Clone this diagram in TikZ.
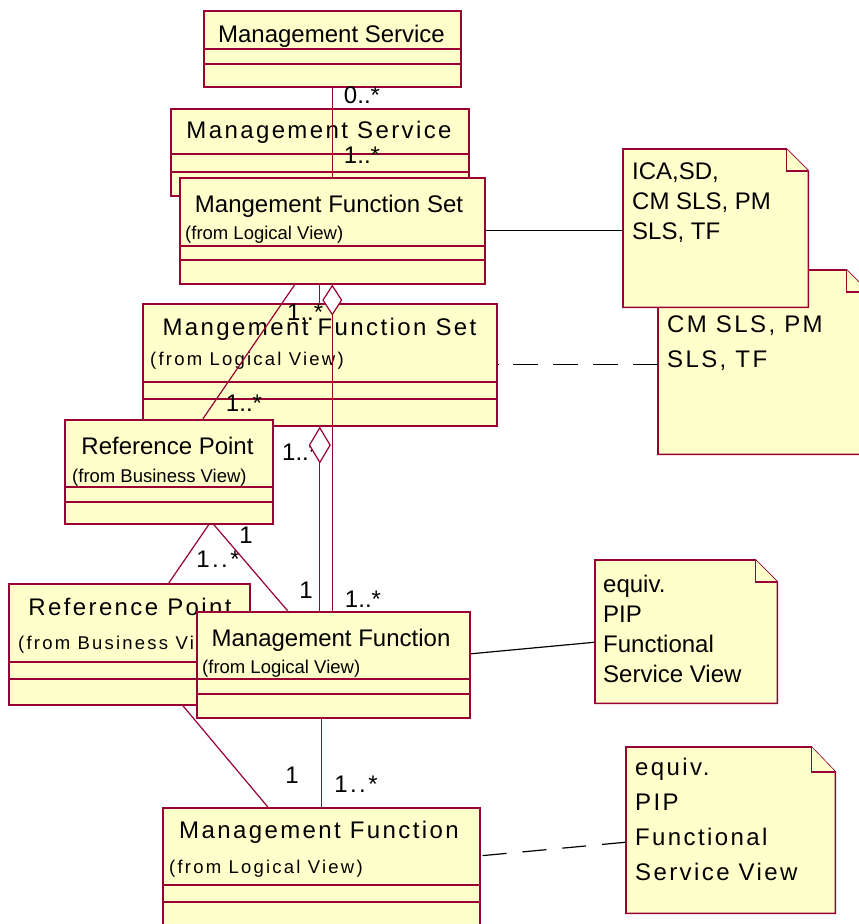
\documentclass[tikz,border=0pt]{standalone}
\usepackage{fontspec}
\setmainfont{Liberation Sans}
\newfontfamily\widefont[LetterSpace=10]{Liberation Sans}
\newfontfamily\widesmall[LetterSpace=12]{Liberation Sans}
\usetikzlibrary{arrows.meta}
\definecolor{classfill}{HTML}{FFFFCC}
\definecolor{classline}{HTML}{990033}

\begin{document}
\begin{tikzpicture}[x=1pt, y=-1pt,
    classbox/.style={draw=classline, fill=classfill, line width=1.6pt, anchor=north west, inner sep=0pt},
    compart/.style={draw=classline, line width=1.2pt},
    notearea/.style={anchor=north west, inner sep=0pt},
    notebox/.style={draw=classline, fill=classfill, line width=1.6pt, line join=miter},
    title/.style={font=\fontsize{24}{28}\selectfont, anchor=base, inner sep=0pt},
    wtitle/.style={font=\fontsize{24}{28}\widefont, anchor=base, inner sep=0pt},
    subtitle/.style={font=\fontsize{18.5}{22}\selectfont, anchor=base west, inner sep=0pt},
    wsubtitle/.style={font=\fontsize{18.5}{22}\widesmall, anchor=base west, inner sep=0pt},
    notetext/.style={font=\fontsize{24}{30}\selectfont, align=left, anchor=north west, inner sep=0pt},
    wnotetext/.style={font=\fontsize{24}{35}\widefont, align=left, anchor=north west, inner sep=0pt},
    mult/.style={font=\fontsize{24}{28}\selectfont, anchor=base, inner sep=0pt},
    wmult/.style={font=\fontsize{24}{28}\widefont, anchor=base, inner sep=0pt},
    assoc/.style={draw=classline, line width=1.2pt},
    link/.style={draw=black, line width=1.2pt}
    ]
    \useasboundingbox (0,0) rectangle (859,924);

    % classes
    \node[classbox, minimum width=257pt, minimum height=76pt] (ms) at (203,10) {};
    \node[title] (mstitle) at (331.5,42) {Management Service};
    \draw[compart] (203,49) -- (460,49) (203,64) -- (460,64);

    \node[classbox, minimum width=298pt, minimum height=87pt] (ms2) at (170,108) {};
    \node[wtitle] (ms2title) at (319,138) {Management Service};
    \draw[compart] (170,154) -- (468,154) (170,172) -- (468,172);

    \node[classbox, minimum width=305pt, minimum height=106pt] (mfs) at (179,177) {};
    \node[title] (mfstitle) at (329,212) {Mangement Function Set};
    \node[subtitle] (mfsfrom) at (185,239) {(from Logical View)};
    \draw[compart] (179,246) -- (484,246) (179,260) -- (484,260);

    \node[classbox, minimum width=354pt, minimum height=122pt] (mfs2) at (142,303) {};
    \node[wtitle] (mfs2title) at (319.5,335) {Mangement Function Set};
    \node[wsubtitle] (mfs2from) at (150,365) {(from Logical View)};
    \draw[compart] (142,382) -- (496,382) (142,399) -- (496,399);

    \node[classbox, minimum width=208pt, minimum height=104pt] (rp) at (64,419) {};
    \node[title] (rptitle) at (167.5,454) {Reference Point};
    \node[subtitle] (rpfrom) at (72,482) {(from Business View)};
    \draw[compart] (64,487) -- (272,487) (64,502) -- (272,502);

    \node[classbox, minimum width=241pt, minimum height=121pt] (rp2) at (8,583) {};
    \node[wtitle] (rp2title) at (130,615) {Reference Point};
    \node[wsubtitle] (rp2from) at (18,649) {(from Business View)};
    \draw[compart] (8,662) -- (249,662) (8,679) -- (249,679);

    \node[classbox, minimum width=273pt, minimum height=106pt] (mf) at (196,611) {};
    \node[title] (mftitle) at (331,646) {Management Function};
    \node[subtitle] (mffrom) at (202,673) {(from Logical View)};
    \draw[compart] (196,679) -- (469,679) (196,694) -- (469,694);

    \node[classbox, minimum width=317pt, minimum height=120pt] (mf2) at (162,807) {};
    \node[wtitle] (mf2title) at (319,838) {Management Function};
    \node[wsubtitle] (mf2from) at (169,873) {(from Logical View)};
    \draw[compart] (162,885) -- (479,885) (162,902) -- (479,902);

    % notes
    \node[notearea, minimum width=210pt, minimum height=184pt] (n2) at (658,270) {};
    \draw[notebox] (n2.south west) -- (n2.north west) -- ([xshift=-22pt]n2.north east)
        -- ([yshift=-22pt]n2.north east) -- (n2.south east) -- cycle;
    \draw[notebox] ([xshift=-22pt]n2.north east) |- ([yshift=-22pt]n2.north east);
    \node[wnotetext] (n2text) at (667,316) {CM SLS, PM\\SLS, TF};

    \node[notearea, minimum width=185pt, minimum height=158pt] (n1) at (623,149) {};
    \draw[notebox] (n1.south west) -- (n1.north west) -- ([xshift=-22pt]n1.north east)
        -- ([yshift=-22pt]n1.north east) -- (n1.south east) -- cycle;
    \draw[notebox] ([xshift=-22pt]n1.north east) |- ([yshift=-22pt]n1.north east);
    \node[notetext] (n1text) at (632,163) {ICA,SD,\\CM SLS, PM\\SLS, TF};

    \node[notearea, minimum width=182pt, minimum height=143pt] (n3) at (595,560) {};
    \draw[notebox] (n3.south west) -- (n3.north west) -- ([xshift=-22pt]n3.north east)
        -- ([yshift=-22pt]n3.north east) -- (n3.south east) -- cycle;
    \draw[notebox] ([xshift=-22pt]n3.north east) |- ([yshift=-22pt]n3.north east);
    \node[notetext] (n3text) at (603,575) {equiv.\\PIP\\Functional\\Service View};

    \node[notearea, minimum width=209pt, minimum height=166pt] (n4) at (626,747) {};
    \draw[notebox] (n4.south west) -- (n4.north west) -- ([xshift=-24pt]n4.north east)
        -- ([yshift=-25pt]n4.north east) -- (n4.south east) -- cycle;
    \draw[notebox] ([xshift=-24pt]n4.north east) |- ([yshift=-25pt]n4.north east);
    \node[wnotetext] (n4text) at (635,758) {equiv.\\PIP\\Functional\\Service View};

    % multiplicities
    \node[mult] (m1) at (362,103) {0..*};
    \node[mult] (m2) at (362,163) {1..*};
    \node[mult, anchor=base west] (m3) at (287,320) {1..*};
    \node[mult] (m4) at (244,411) {1..*};
    \node[mult, anchor=base west] (m5) at (282,460) {1..*};
    \node[mult] (m6) at (246,543) {1};
    \node[wmult] (m7) at (218,567) {1..*};
    \node[mult] (m8) at (306,598) {1};
    \node[mult] (m9) at (363,607) {1..*};
    \node[mult] (m10) at (292,783) {1};
    \node[wmult] (m11) at (356,792) {1..*};

    % associations
    \draw[assoc] (ms.south) -- (mfs.north);
    \draw[assoc] (mfs.south -| mfs2.north) -- (mfs2.north);
    \draw[assoc, {Diamond[fill=white, length=31pt, width=20pt]}-] (mfs.south) -- (mfs.south |- mf.north);
    \draw[assoc, {Diamond[fill=white, length=37pt, width=22pt]}-] (mfs2.south) -- (mfs2.south |- mf.north);
    \draw[assoc] ([xshift=-37.5pt]mfs.south) -- ([xshift=34pt]rp.north);
    \draw[assoc] ([xshift=40pt]rp.south) -- ([xshift=39.5pt]rp2.north);
    \draw[assoc] ([xshift=45pt]rp.south) -- ([xshift=-45.5pt]mf.north);
    \draw[assoc] ([xshift=53.5pt]rp2.south) -- ([xshift=-53.5pt]mf2.north);
    \draw[assoc] (mf.south -| mf2.north) -- (mf2.north);

    % note links
    \draw[link] (mfs.east) -- (mfs.east -| n1.west);
    \draw[link, dash pattern=on 25pt off 15pt] (mfs2.east -| n2.west) -- (mfs2.east);
    \draw[link] ([yshift=11pt]mf.east) -- ([yshift=-10.5pt]n3.west);
    \draw[link, dash pattern=on 24pt off 16pt] ([yshift=-12pt]n4.west) -- ([yshift=12pt]mf2.east);
\end{tikzpicture}
\end{document}
